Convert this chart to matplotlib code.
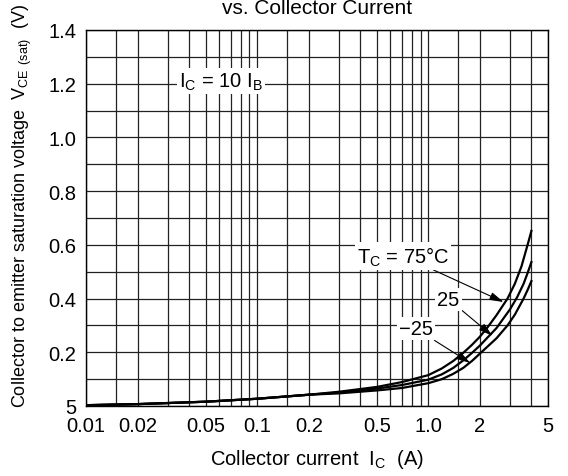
import numpy as np
import matplotlib
matplotlib.use("Agg")
import matplotlib.pyplot as plt
from matplotlib.ticker import FixedLocator, NullFormatter

plt.rcParams['font.family'] = ['Liberation Sans', 'DejaVu Sans']
plt.rcParams['mathtext.fontset'] = 'custom'
plt.rcParams['mathtext.rm'] = 'Liberation Sans'
plt.rcParams['mathtext.it'] = 'Liberation Sans'

# collector current (A) and V_CE(sat) (V)
ic_75 = [0.01, 0.02, 0.05, 0.1, 0.2, 0.3, 0.5, 0.7, 1.0, 1.2, 1.4, 1.6, 1.8, 2.0, 2.2,
         2.5, 2.9, 3.2, 3.5, 3.8, 4.0]
vce_75 = [0.003, 0.007, 0.016, 0.027, 0.042, 0.053, 0.071, 0.089, 0.115, 0.14, 0.168,
          0.198, 0.228, 0.258, 0.29, 0.338, 0.4, 0.455, 0.52, 0.6, 0.652]

ic_25 = [0.01, 0.02, 0.05, 0.1, 0.2, 0.3, 0.5, 0.7, 1.0, 1.2, 1.4, 1.6, 1.8, 2.0, 2.5,
         3.0, 3.3, 3.6, 3.8, 4.0]
vce_25 = [0.003, 0.007, 0.016, 0.027, 0.042, 0.05, 0.065, 0.078, 0.098, 0.118, 0.142,
          0.17, 0.198, 0.225, 0.29, 0.36, 0.405, 0.455, 0.495, 0.536]

ic_m25 = [0.01, 0.02, 0.05, 0.1, 0.2, 0.3, 0.5, 0.7, 1.0, 1.2, 1.4, 1.6, 1.8, 2.0, 2.5,
          2.9, 3.2, 3.6, 3.8, 4.0]
vce_m25 = [0.003, 0.007, 0.016, 0.027, 0.042, 0.047, 0.058, 0.067, 0.085, 0.1, 0.12,
           0.142, 0.168, 0.195, 0.252, 0.3, 0.34, 0.4, 0.432, 0.465]

x_ticks = [0.01, 0.02, 0.05, 0.1, 0.2, 0.5, 1.0, 2, 5]
x_labels = ['0.01', '0.02', '0.05', '0.1', '0.2', '0.5', '1.0', '2', '5']
y_ticks = [0, 0.2, 0.4, 0.6, 0.8, 1.0, 1.2, 1.4]
y_labels = ['5', '0.2', '0.4', '0.6', '0.8', '1.0', '1.2', '1.4']

fig = plt.figure(figsize=(5.68, 4.77), dpi=100)
ax = fig.add_axes([86/568, 1-407/477, 462/568, 376/477])

for ic, v in [(ic_75, vce_75), (ic_25, vce_25), (ic_m25, vce_m25)]:
    ax.plot(ic, v, color='k', lw=1.6, zorder=3)

ax.set_xscale('log')
ax.set_xlim(0.01, 5)
ax.set_ylim(0, 1.4)

ax.xaxis.set_major_locator(FixedLocator(x_ticks))
ax.set_xticklabels(x_labels)
minor_x = [m * d for d in (0.01, 0.1, 1) for m in (1, 1.5, 2, 3, 4, 5, 6, 7, 8, 9)]
minor_x = [v for v in minor_x if 0.01 <= v <= 5 and v not in x_ticks]
ax.xaxis.set_minor_locator(FixedLocator(minor_x))
ax.xaxis.set_minor_formatter(NullFormatter())

ax.set_yticks(y_ticks)
ax.set_yticklabels(y_labels)
ax.yaxis.set_minor_locator(FixedLocator(np.arange(0.1, 1.4, 0.2)))

ax.grid(True, which='both', color='#222222', lw=0.9, zorder=1)
ax.set_axisbelow(True)
ax.tick_params(which='both', length=0, labelsize=14.5, pad=7)
for s in ax.spines.values():
    s.set_linewidth(1.0)

fs = 14.5
box = dict(boxstyle='square,pad=0.1', fc='white', ec='none')
arrow = dict(arrowstyle='-|>,head_length=0.7,head_width=0.2', color='k', lw=0.8,
             mutation_scale=12, shrinkA=0, shrinkB=0)

ax.text(0.0616, 1.21, r'I$_\mathregular{C}$ = 10 I$_\mathregular{B}$', fontsize=fs,
        ha='center', va='center', bbox=box, zorder=4)
ax.annotate(r'T$_\mathregular{C}$ = 75°C', xy=(2.75, 0.387), xytext=(0.714, 0.558),
            fontsize=fs, ha='center', va='center', bbox=box, arrowprops=arrow, zorder=4)
ax.annotate('25', xy=(2.37, 0.261), xytext=(1.31, 0.398),
            fontsize=fs, ha='center', va='center', bbox=box, arrowprops=arrow, zorder=4)
ax.annotate('\u221225', xy=(1.76, 0.160), xytext=(0.85, 0.287),
            fontsize=fs, ha='center', va='center', bbox=box, arrowprops=arrow, zorder=4)

ax.set_xlabel(r'Collector current  I$_\mathregular{C}$  (A)', fontsize=fs, labelpad=9)
fig.text(22/568, 1-4/477,
         r'Collector to emitter saturation voltage  V$_\mathregular{CE}$ $_{\mathregular{(sat)}}$  (V)',
         rotation=90, ha='center', va='top', fontsize=13)
fig.text(317/568, 1-14/477, 'vs. Collector Current', ha='center', va='baseline', fontsize=15)

fig.savefig('out.png', dpi=100)
